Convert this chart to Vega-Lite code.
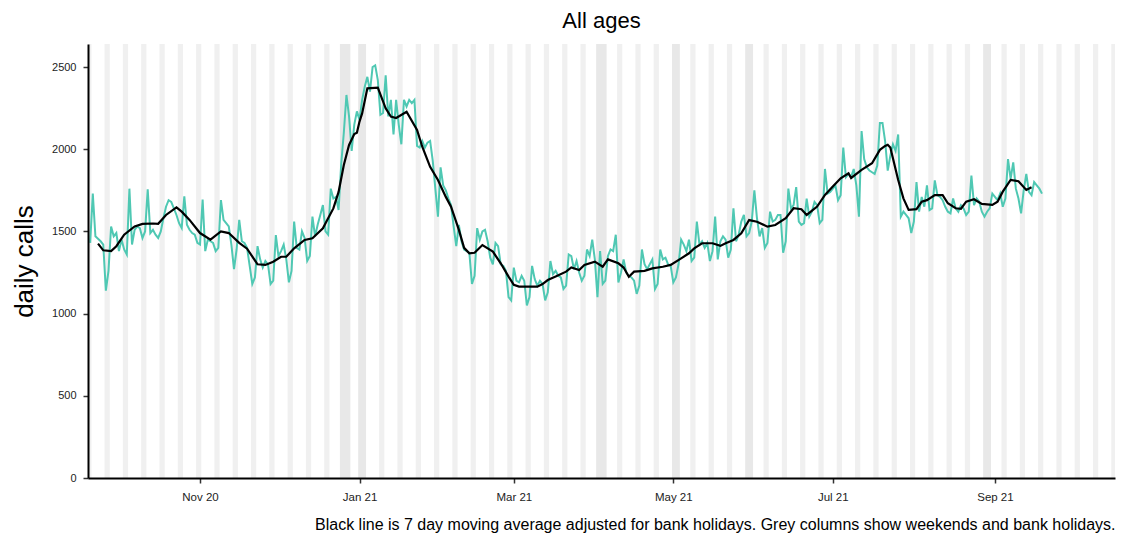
{
  "$schema": "https://vega.github.io/schema/vega-lite/v6.json",
  "width": 1027,
  "height": 434,
  "autosize": {"type": "none"},
  "padding": {"left": 88, "top": 44, "right": 13, "bottom": 55},
  "background": "white",
  "config": {"view": {"stroke": null}, "font": "Liberation Sans"},
  "title": {"text": "All ages", "fontSize": 22, "fontWeight": "normal", "anchor": "middle", "frame": "group", "offset": 11, "color": "black", "font": "Liberation Sans"},
  "datasets": {
    "cols": [
      {"date":"2020-09-18T12:00:00Z","date_end":"2020-09-20T12:00:00Z","kind":"w"},
      {"date":"2020-09-25T12:00:00Z","date_end":"2020-09-27T12:00:00Z","kind":"w"},
      {"date":"2020-10-02T12:00:00Z","date_end":"2020-10-04T12:00:00Z","kind":"w"},
      {"date":"2020-10-09T12:00:00Z","date_end":"2020-10-11T12:00:00Z","kind":"w"},
      {"date":"2020-10-16T12:00:00Z","date_end":"2020-10-18T12:00:00Z","kind":"w"},
      {"date":"2020-10-23T12:00:00Z","date_end":"2020-10-25T12:00:00Z","kind":"w"},
      {"date":"2020-10-30T12:00:00Z","date_end":"2020-11-01T12:00:00Z","kind":"w"},
      {"date":"2020-11-06T12:00:00Z","date_end":"2020-11-08T12:00:00Z","kind":"w"},
      {"date":"2020-11-13T12:00:00Z","date_end":"2020-11-15T12:00:00Z","kind":"w"},
      {"date":"2020-11-20T12:00:00Z","date_end":"2020-11-22T12:00:00Z","kind":"w"},
      {"date":"2020-11-27T12:00:00Z","date_end":"2020-11-29T12:00:00Z","kind":"w"},
      {"date":"2020-12-04T12:00:00Z","date_end":"2020-12-06T12:00:00Z","kind":"w"},
      {"date":"2020-12-11T12:00:00Z","date_end":"2020-12-13T12:00:00Z","kind":"w"},
      {"date":"2020-12-18T12:00:00Z","date_end":"2020-12-20T12:00:00Z","kind":"w"},
      {"date":"2020-12-24T12:00:00Z","date_end":"2020-12-28T12:00:00Z","kind":"b"},
      {"date":"2020-12-31T12:00:00Z","date_end":"2021-01-03T12:00:00Z","kind":"b"},
      {"date":"2021-01-08T12:00:00Z","date_end":"2021-01-10T12:00:00Z","kind":"w"},
      {"date":"2021-01-15T12:00:00Z","date_end":"2021-01-17T12:00:00Z","kind":"w"},
      {"date":"2021-01-22T12:00:00Z","date_end":"2021-01-24T12:00:00Z","kind":"w"},
      {"date":"2021-01-29T12:00:00Z","date_end":"2021-01-31T12:00:00Z","kind":"w"},
      {"date":"2021-02-05T12:00:00Z","date_end":"2021-02-07T12:00:00Z","kind":"w"},
      {"date":"2021-02-12T12:00:00Z","date_end":"2021-02-14T12:00:00Z","kind":"w"},
      {"date":"2021-02-19T12:00:00Z","date_end":"2021-02-21T12:00:00Z","kind":"w"},
      {"date":"2021-02-26T12:00:00Z","date_end":"2021-02-28T12:00:00Z","kind":"w"},
      {"date":"2021-03-05T12:00:00Z","date_end":"2021-03-07T12:00:00Z","kind":"w"},
      {"date":"2021-03-12T12:00:00Z","date_end":"2021-03-14T12:00:00Z","kind":"w"},
      {"date":"2021-03-19T12:00:00Z","date_end":"2021-03-21T12:00:00Z","kind":"w"},
      {"date":"2021-03-26T12:00:00Z","date_end":"2021-03-28T12:00:00Z","kind":"w"},
      {"date":"2021-04-01T12:00:00Z","date_end":"2021-04-05T12:00:00Z","kind":"b"},
      {"date":"2021-04-09T12:00:00Z","date_end":"2021-04-11T12:00:00Z","kind":"w"},
      {"date":"2021-04-16T12:00:00Z","date_end":"2021-04-18T12:00:00Z","kind":"w"},
      {"date":"2021-04-23T12:00:00Z","date_end":"2021-04-25T12:00:00Z","kind":"w"},
      {"date":"2021-04-30T12:00:00Z","date_end":"2021-05-03T12:00:00Z","kind":"b"},
      {"date":"2021-05-07T12:00:00Z","date_end":"2021-05-09T12:00:00Z","kind":"w"},
      {"date":"2021-05-14T12:00:00Z","date_end":"2021-05-16T12:00:00Z","kind":"w"},
      {"date":"2021-05-21T12:00:00Z","date_end":"2021-05-23T12:00:00Z","kind":"w"},
      {"date":"2021-05-28T12:00:00Z","date_end":"2021-05-31T12:00:00Z","kind":"b"},
      {"date":"2021-06-04T12:00:00Z","date_end":"2021-06-06T12:00:00Z","kind":"w"},
      {"date":"2021-06-11T12:00:00Z","date_end":"2021-06-13T12:00:00Z","kind":"w"},
      {"date":"2021-06-18T12:00:00Z","date_end":"2021-06-20T12:00:00Z","kind":"w"},
      {"date":"2021-06-25T12:00:00Z","date_end":"2021-06-27T12:00:00Z","kind":"w"},
      {"date":"2021-07-02T12:00:00Z","date_end":"2021-07-04T12:00:00Z","kind":"w"},
      {"date":"2021-07-09T12:00:00Z","date_end":"2021-07-11T12:00:00Z","kind":"w"},
      {"date":"2021-07-16T12:00:00Z","date_end":"2021-07-18T12:00:00Z","kind":"w"},
      {"date":"2021-07-23T12:00:00Z","date_end":"2021-07-25T12:00:00Z","kind":"w"},
      {"date":"2021-07-30T12:00:00Z","date_end":"2021-08-01T12:00:00Z","kind":"w"},
      {"date":"2021-08-06T12:00:00Z","date_end":"2021-08-08T12:00:00Z","kind":"w"},
      {"date":"2021-08-13T12:00:00Z","date_end":"2021-08-15T12:00:00Z","kind":"w"},
      {"date":"2021-08-20T12:00:00Z","date_end":"2021-08-22T12:00:00Z","kind":"w"},
      {"date":"2021-08-27T12:00:00Z","date_end":"2021-08-30T12:00:00Z","kind":"b"},
      {"date":"2021-09-03T12:00:00Z","date_end":"2021-09-05T12:00:00Z","kind":"w"},
      {"date":"2021-09-10T12:00:00Z","date_end":"2021-09-12T12:00:00Z","kind":"w"},
      {"date":"2021-09-17T12:00:00Z","date_end":"2021-09-19T12:00:00Z","kind":"w"},
      {"date":"2021-09-24T12:00:00Z","date_end":"2021-09-26T12:00:00Z","kind":"w"},
      {"date":"2021-10-01T12:00:00Z","date_end":"2021-10-03T12:00:00Z","kind":"w"},
      {"date":"2021-10-08T12:00:00Z","date_end":"2021-10-10T12:00:00Z","kind":"w"},
      {"date":"2021-10-15T12:00:00Z","date_end":"2021-10-17T12:00:00Z","kind":"w"}
    ],
    "daily": [
      {"date":"2020-09-20","calls":1430},{"date":"2020-09-21","calls":1730},{"date":"2020-09-22","calls":1470},{"date":"2020-09-23","calls":1455},{"date":"2020-09-24","calls":1440},{"date":"2020-09-25","calls":1420},{"date":"2020-09-26","calls":1140},{"date":"2020-09-27","calls":1260},{"date":"2020-09-28","calls":1530},{"date":"2020-09-29","calls":1470},{"date":"2020-09-30","calls":1490},
      {"date":"2020-10-01","calls":1380},{"date":"2020-10-02","calls":1450},{"date":"2020-10-03","calls":1390},{"date":"2020-10-04","calls":1360},{"date":"2020-10-05","calls":1760},{"date":"2020-10-06","calls":1420},{"date":"2020-10-07","calls":1510},{"date":"2020-10-08","calls":1530},{"date":"2020-10-09","calls":1520},{"date":"2020-10-10","calls":1460},{"date":"2020-10-11","calls":1500},{"date":"2020-10-12","calls":1756},{"date":"2020-10-13","calls":1490},{"date":"2020-10-14","calls":1510},{"date":"2020-10-15","calls":1480},{"date":"2020-10-16","calls":1460},{"date":"2020-10-17","calls":1500},{"date":"2020-10-18","calls":1580},{"date":"2020-10-19","calls":1650},{"date":"2020-10-20","calls":1690},{"date":"2020-10-21","calls":1680},{"date":"2020-10-22","calls":1640},{"date":"2020-10-23","calls":1600},{"date":"2020-10-24","calls":1550},{"date":"2020-10-25","calls":1520},{"date":"2020-10-26","calls":1714},{"date":"2020-10-27","calls":1540},{"date":"2020-10-28","calls":1510},{"date":"2020-10-29","calls":1490},{"date":"2020-10-30","calls":1480},{"date":"2020-10-31","calls":1430},
      {"date":"2020-11-01","calls":1420},{"date":"2020-11-02","calls":1694},{"date":"2020-11-03","calls":1380},{"date":"2020-11-04","calls":1450},{"date":"2020-11-05","calls":1440},{"date":"2020-11-06","calls":1430},{"date":"2020-11-07","calls":1380},{"date":"2020-11-08","calls":1400},{"date":"2020-11-09","calls":1690},{"date":"2020-11-10","calls":1570},{"date":"2020-11-11","calls":1550},{"date":"2020-11-12","calls":1530},{"date":"2020-11-13","calls":1420},{"date":"2020-11-14","calls":1270},{"date":"2020-11-15","calls":1390},{"date":"2020-11-16","calls":1570},{"date":"2020-11-17","calls":1440},{"date":"2020-11-18","calls":1430},{"date":"2020-11-19","calls":1400},{"date":"2020-11-20","calls":1290},{"date":"2020-11-21","calls":1180},{"date":"2020-11-22","calls":1220},{"date":"2020-11-23","calls":1410},{"date":"2020-11-24","calls":1330},{"date":"2020-11-25","calls":1280},{"date":"2020-11-26","calls":1320},{"date":"2020-11-27","calls":1300},{"date":"2020-11-28","calls":1180},{"date":"2020-11-29","calls":1200},{"date":"2020-11-30","calls":1478},
      {"date":"2020-12-01","calls":1350},{"date":"2020-12-02","calls":1380},{"date":"2020-12-03","calls":1420},{"date":"2020-12-04","calls":1330},{"date":"2020-12-05","calls":1190},{"date":"2020-12-06","calls":1260},{"date":"2020-12-07","calls":1560},{"date":"2020-12-08","calls":1400},{"date":"2020-12-09","calls":1390},{"date":"2020-12-10","calls":1500},{"date":"2020-12-11","calls":1460},{"date":"2020-12-12","calls":1320},{"date":"2020-12-13","calls":1350},{"date":"2020-12-14","calls":1590},{"date":"2020-12-15","calls":1470},{"date":"2020-12-16","calls":1540},{"date":"2020-12-17","calls":1600},{"date":"2020-12-18","calls":1660},{"date":"2020-12-19","calls":1500},{"date":"2020-12-20","calls":1480},{"date":"2020-12-21","calls":1760},{"date":"2020-12-22","calls":1700},{"date":"2020-12-23","calls":1710},{"date":"2020-12-24","calls":1630},{"date":"2020-12-25","calls":1910},{"date":"2020-12-26","calls":2100},{"date":"2020-12-27","calls":2330},{"date":"2020-12-28","calls":2200},{"date":"2020-12-29","calls":1990},{"date":"2020-12-30","calls":2150},{"date":"2020-12-31","calls":2230},
      {"date":"2021-01-01","calls":2180},{"date":"2021-01-02","calls":2300},{"date":"2021-01-03","calls":2380},{"date":"2021-01-04","calls":2440},{"date":"2021-01-05","calls":2350},{"date":"2021-01-06","calls":2500},{"date":"2021-01-07","calls":2510},{"date":"2021-01-08","calls":2420},{"date":"2021-01-09","calls":2210},{"date":"2021-01-10","calls":2220},{"date":"2021-01-11","calls":2450},{"date":"2021-01-12","calls":2200},{"date":"2021-01-13","calls":2300},{"date":"2021-01-14","calls":2090},{"date":"2021-01-15","calls":2300},{"date":"2021-01-16","calls":2150},{"date":"2021-01-17","calls":2030},{"date":"2021-01-18","calls":2300},{"date":"2021-01-19","calls":2260},{"date":"2021-01-20","calls":2300},{"date":"2021-01-21","calls":2280},{"date":"2021-01-22","calls":2300},{"date":"2021-01-23","calls":2020},{"date":"2021-01-24","calls":2010},{"date":"2021-01-25","calls":2050},{"date":"2021-01-26","calls":2010},{"date":"2021-01-27","calls":2040},{"date":"2021-01-28","calls":2050},{"date":"2021-01-29","calls":1930},{"date":"2021-01-30","calls":1760},{"date":"2021-01-31","calls":1590},
      {"date":"2021-02-01","calls":1890},{"date":"2021-02-02","calls":1780},{"date":"2021-02-03","calls":1750},{"date":"2021-02-04","calls":1700},{"date":"2021-02-05","calls":1660},{"date":"2021-02-06","calls":1530},{"date":"2021-02-07","calls":1410},{"date":"2021-02-08","calls":1540},{"date":"2021-02-09","calls":1440},{"date":"2021-02-10","calls":1390},{"date":"2021-02-11","calls":1380},{"date":"2021-02-12","calls":1370},{"date":"2021-02-13","calls":1180},{"date":"2021-02-14","calls":1230},{"date":"2021-02-15","calls":1520},{"date":"2021-02-16","calls":1450},{"date":"2021-02-17","calls":1500},{"date":"2021-02-18","calls":1510},{"date":"2021-02-19","calls":1440},{"date":"2021-02-20","calls":1340},{"date":"2021-02-21","calls":1300},{"date":"2021-02-22","calls":1430},{"date":"2021-02-23","calls":1410},{"date":"2021-02-24","calls":1300},{"date":"2021-02-25","calls":1290},{"date":"2021-02-26","calls":1260},{"date":"2021-02-27","calls":1100},{"date":"2021-02-28","calls":1080},
      {"date":"2021-03-01","calls":1280},{"date":"2021-03-02","calls":1200},{"date":"2021-03-03","calls":1190},{"date":"2021-03-04","calls":1230},{"date":"2021-03-05","calls":1200},{"date":"2021-03-06","calls":1050},{"date":"2021-03-07","calls":1100},{"date":"2021-03-08","calls":1290},{"date":"2021-03-09","calls":1210},{"date":"2021-03-10","calls":1170},{"date":"2021-03-11","calls":1200},{"date":"2021-03-12","calls":1180},{"date":"2021-03-13","calls":1080},{"date":"2021-03-14","calls":1130},{"date":"2021-03-15","calls":1320},{"date":"2021-03-16","calls":1240},{"date":"2021-03-17","calls":1260},{"date":"2021-03-18","calls":1230},{"date":"2021-03-19","calls":1220},{"date":"2021-03-20","calls":1150},{"date":"2021-03-21","calls":1170},{"date":"2021-03-22","calls":1360},{"date":"2021-03-23","calls":1350},{"date":"2021-03-24","calls":1270},{"date":"2021-03-25","calls":1320},{"date":"2021-03-26","calls":1250},{"date":"2021-03-27","calls":1200},{"date":"2021-03-28","calls":1230},{"date":"2021-03-29","calls":1390},{"date":"2021-03-30","calls":1350},{"date":"2021-03-31","calls":1450},
      {"date":"2021-04-01","calls":1330},{"date":"2021-04-02","calls":1100},{"date":"2021-04-03","calls":1380},{"date":"2021-04-04","calls":1180},{"date":"2021-04-05","calls":1200},{"date":"2021-04-06","calls":1350},{"date":"2021-04-07","calls":1390},{"date":"2021-04-08","calls":1380},{"date":"2021-04-09","calls":1480},{"date":"2021-04-10","calls":1190},{"date":"2021-04-11","calls":1250},{"date":"2021-04-12","calls":1330},{"date":"2021-04-13","calls":1250},{"date":"2021-04-14","calls":1230},{"date":"2021-04-15","calls":1220},{"date":"2021-04-16","calls":1200},{"date":"2021-04-17","calls":1120},{"date":"2021-04-18","calls":1170},{"date":"2021-04-19","calls":1390},{"date":"2021-04-20","calls":1300},{"date":"2021-04-21","calls":1270},{"date":"2021-04-22","calls":1300},{"date":"2021-04-23","calls":1330},{"date":"2021-04-24","calls":1150},{"date":"2021-04-25","calls":1180},{"date":"2021-04-26","calls":1390},{"date":"2021-04-27","calls":1330},{"date":"2021-04-28","calls":1340},{"date":"2021-04-29","calls":1300},{"date":"2021-04-30","calls":1290},
      {"date":"2021-05-01","calls":1190},{"date":"2021-05-02","calls":1220},{"date":"2021-05-03","calls":1300},{"date":"2021-05-04","calls":1450},{"date":"2021-05-05","calls":1420},{"date":"2021-05-06","calls":1380},{"date":"2021-05-07","calls":1450},{"date":"2021-05-08","calls":1320},{"date":"2021-05-09","calls":1340},{"date":"2021-05-10","calls":1560},{"date":"2021-05-11","calls":1420},{"date":"2021-05-12","calls":1440},{"date":"2021-05-13","calls":1400},{"date":"2021-05-14","calls":1430},{"date":"2021-05-15","calls":1320},{"date":"2021-05-16","calls":1380},{"date":"2021-05-17","calls":1590},{"date":"2021-05-18","calls":1330},{"date":"2021-05-19","calls":1440},{"date":"2021-05-20","calls":1470},{"date":"2021-05-21","calls":1450},{"date":"2021-05-22","calls":1340},{"date":"2021-05-23","calls":1390},{"date":"2021-05-24","calls":1640},{"date":"2021-05-25","calls":1440},{"date":"2021-05-26","calls":1480},{"date":"2021-05-27","calls":1560},{"date":"2021-05-28","calls":1600},{"date":"2021-05-29","calls":1470},{"date":"2021-05-30","calls":1490},{"date":"2021-05-31","calls":1560},
      {"date":"2021-06-01","calls":1750},{"date":"2021-06-02","calls":1580},{"date":"2021-06-03","calls":1470},{"date":"2021-06-04","calls":1520},{"date":"2021-06-05","calls":1400},{"date":"2021-06-06","calls":1430},{"date":"2021-06-07","calls":1620},{"date":"2021-06-08","calls":1560},{"date":"2021-06-09","calls":1570},{"date":"2021-06-10","calls":1600},{"date":"2021-06-11","calls":1600},{"date":"2021-06-12","calls":1370},{"date":"2021-06-13","calls":1440},{"date":"2021-06-14","calls":1760},{"date":"2021-06-15","calls":1640},{"date":"2021-06-16","calls":1660},{"date":"2021-06-17","calls":1770},{"date":"2021-06-18","calls":1560},{"date":"2021-06-19","calls":1540},{"date":"2021-06-20","calls":1550},{"date":"2021-06-21","calls":1700},{"date":"2021-06-22","calls":1590},{"date":"2021-06-23","calls":1620},{"date":"2021-06-24","calls":1680},{"date":"2021-06-25","calls":1660},{"date":"2021-06-26","calls":1550},{"date":"2021-06-27","calls":1570},{"date":"2021-06-28","calls":1880},{"date":"2021-06-29","calls":1730},{"date":"2021-06-30","calls":1740},
      {"date":"2021-07-01","calls":1760},{"date":"2021-07-02","calls":1780},{"date":"2021-07-03","calls":1690},{"date":"2021-07-04","calls":1720},{"date":"2021-07-05","calls":2010},{"date":"2021-07-06","calls":1830},{"date":"2021-07-07","calls":1850},{"date":"2021-07-08","calls":1830},{"date":"2021-07-09","calls":1880},{"date":"2021-07-10","calls":1780},{"date":"2021-07-11","calls":1590},{"date":"2021-07-12","calls":2110},{"date":"2021-07-13","calls":1940},{"date":"2021-07-14","calls":1890},{"date":"2021-07-15","calls":1870},{"date":"2021-07-16","calls":1860},{"date":"2021-07-17","calls":1850},{"date":"2021-07-18","calls":1900},{"date":"2021-07-19","calls":2160},{"date":"2021-07-20","calls":2160},{"date":"2021-07-21","calls":2050},{"date":"2021-07-22","calls":1870},{"date":"2021-07-23","calls":1960},{"date":"2021-07-24","calls":2030},{"date":"2021-07-25","calls":1990},{"date":"2021-07-26","calls":2090},{"date":"2021-07-27","calls":1590},{"date":"2021-07-28","calls":1620},{"date":"2021-07-29","calls":1600},{"date":"2021-07-30","calls":1580},{"date":"2021-07-31","calls":1490},
      {"date":"2021-08-01","calls":1560},{"date":"2021-08-02","calls":1800},{"date":"2021-08-03","calls":1620},{"date":"2021-08-04","calls":1710},{"date":"2021-08-05","calls":1650},{"date":"2021-08-06","calls":1780},{"date":"2021-08-07","calls":1630},{"date":"2021-08-08","calls":1640},{"date":"2021-08-09","calls":1810},{"date":"2021-08-10","calls":1720},{"date":"2021-08-11","calls":1710},{"date":"2021-08-12","calls":1690},{"date":"2021-08-13","calls":1650},{"date":"2021-08-14","calls":1620},{"date":"2021-08-15","calls":1610},{"date":"2021-08-16","calls":1700},{"date":"2021-08-17","calls":1640},{"date":"2021-08-18","calls":1620},{"date":"2021-08-19","calls":1660},{"date":"2021-08-20","calls":1640},{"date":"2021-08-21","calls":1600},{"date":"2021-08-22","calls":1620},{"date":"2021-08-23","calls":1840},{"date":"2021-08-24","calls":1660},{"date":"2021-08-25","calls":1700},{"date":"2021-08-26","calls":1680},{"date":"2021-08-27","calls":1620},{"date":"2021-08-28","calls":1590},{"date":"2021-08-29","calls":1620},{"date":"2021-08-30","calls":1640},{"date":"2021-08-31","calls":1730},
      {"date":"2021-09-01","calls":1710},{"date":"2021-09-02","calls":1690},{"date":"2021-09-03","calls":1730},{"date":"2021-09-04","calls":1650},{"date":"2021-09-05","calls":1700},{"date":"2021-09-06","calls":1940},{"date":"2021-09-07","calls":1820},{"date":"2021-09-08","calls":1920},{"date":"2021-09-09","calls":1760},{"date":"2021-09-10","calls":1700},{"date":"2021-09-11","calls":1610},{"date":"2021-09-12","calls":1750},{"date":"2021-09-13","calls":1850},{"date":"2021-09-14","calls":1740},{"date":"2021-09-15","calls":1720},{"date":"2021-09-16","calls":1800},{"date":"2021-09-17","calls":1780},{"date":"2021-09-18","calls":1760},{"date":"2021-09-19","calls":1730}
    ],
    "ma": [
      {"date":"2020-09-23","calls":1426},{"date":"2020-09-25","calls":1385},{"date":"2020-09-28","calls":1380},{"date":"2020-09-30","calls":1410},{"date":"2020-10-03","calls":1480},{"date":"2020-10-07","calls":1530},{"date":"2020-10-10","calls":1546},{"date":"2020-10-14","calls":1548},{"date":"2020-10-16","calls":1546},{"date":"2020-10-19","calls":1600},{"date":"2020-10-23","calls":1646},{"date":"2020-10-25","calls":1620},{"date":"2020-10-28","calls":1570},
      {"date":"2020-11-01","calls":1490},{"date":"2020-11-05","calls":1450},{"date":"2020-11-09","calls":1500},{"date":"2020-11-12","calls":1490},{"date":"2020-11-16","calls":1430},{"date":"2020-11-19","calls":1395},{"date":"2020-11-23","calls":1300},{"date":"2020-11-26","calls":1296},{"date":"2020-11-29","calls":1316},
      {"date":"2020-12-02","calls":1346},{"date":"2020-12-04","calls":1346},{"date":"2020-12-07","calls":1397},{"date":"2020-12-11","calls":1448},{"date":"2020-12-14","calls":1458},{"date":"2020-12-18","calls":1519},{"date":"2020-12-20","calls":1580},{"date":"2020-12-22","calls":1640},{"date":"2020-12-24","calls":1740},{"date":"2020-12-26","calls":1904},{"date":"2020-12-28","calls":2026},{"date":"2020-12-30","calls":2092},{"date":"2020-12-31","calls":2100},
      {"date":"2021-01-01","calls":2168},{"date":"2021-01-02","calls":2218},{"date":"2021-01-04","calls":2370},{"date":"2021-01-08","calls":2374},{"date":"2021-01-11","calls":2249},{"date":"2021-01-13","calls":2198},{"date":"2021-01-15","calls":2190},{"date":"2021-01-19","calls":2228},{"date":"2021-01-23","calls":2117},{"date":"2021-01-25","calls":2015},{"date":"2021-01-28","calls":1893},{"date":"2021-01-31","calls":1813},
      {"date":"2021-02-03","calls":1710},{"date":"2021-02-05","calls":1650},{"date":"2021-02-08","calls":1509},{"date":"2021-02-10","calls":1400},{"date":"2021-02-12","calls":1367},{"date":"2021-02-14","calls":1370},{"date":"2021-02-17","calls":1417},{"date":"2021-02-21","calls":1377},{"date":"2021-02-24","calls":1306},{"date":"2021-02-27","calls":1225},
      {"date":"2021-03-01","calls":1175},{"date":"2021-03-03","calls":1164},{"date":"2021-03-10","calls":1164},{"date":"2021-03-12","calls":1180},{"date":"2021-03-14","calls":1204},{"date":"2021-03-17","calls":1225},{"date":"2021-03-21","calls":1255},{"date":"2021-03-23","calls":1281},{"date":"2021-03-26","calls":1265},{"date":"2021-03-28","calls":1296},
      {"date":"2021-04-01","calls":1316},{"date":"2021-04-04","calls":1285},{"date":"2021-04-06","calls":1330},{"date":"2021-04-10","calls":1306},{"date":"2021-04-12","calls":1280},{"date":"2021-04-14","calls":1224},{"date":"2021-04-16","calls":1255},{"date":"2021-04-20","calls":1260},{"date":"2021-04-23","calls":1275},{"date":"2021-04-27","calls":1285},{"date":"2021-04-30","calls":1296},
      {"date":"2021-05-04","calls":1336},{"date":"2021-05-07","calls":1367},{"date":"2021-05-09","calls":1397},{"date":"2021-05-12","calls":1428},{"date":"2021-05-16","calls":1428},{"date":"2021-05-19","calls":1412},{"date":"2021-05-21","calls":1428},{"date":"2021-05-24","calls":1448},{"date":"2021-05-27","calls":1488},{"date":"2021-05-30","calls":1569},
      {"date":"2021-06-02","calls":1559},{"date":"2021-06-06","calls":1529},{"date":"2021-06-09","calls":1539},{"date":"2021-06-13","calls":1580},{"date":"2021-06-16","calls":1641},{"date":"2021-06-19","calls":1635},{"date":"2021-06-21","calls":1600},{"date":"2021-06-25","calls":1651},{"date":"2021-06-28","calls":1722},
      {"date":"2021-07-01","calls":1773},{"date":"2021-07-04","calls":1823},{"date":"2021-07-07","calls":1854},{"date":"2021-07-08","calls":1825},{"date":"2021-07-12","calls":1874},{"date":"2021-07-16","calls":1915},{"date":"2021-07-19","calls":1996},{"date":"2021-07-21","calls":2020},{"date":"2021-07-22","calls":2027},{"date":"2021-07-23","calls":2010},{"date":"2021-07-26","calls":1813},{"date":"2021-07-28","calls":1701},{"date":"2021-07-30","calls":1631},
      {"date":"2021-08-02","calls":1635},{"date":"2021-08-04","calls":1681},{"date":"2021-08-06","calls":1690},{"date":"2021-08-09","calls":1721},{"date":"2021-08-12","calls":1721},{"date":"2021-08-14","calls":1671},{"date":"2021-08-17","calls":1641},{"date":"2021-08-19","calls":1638},{"date":"2021-08-21","calls":1681},{"date":"2021-08-24","calls":1696},{"date":"2021-08-27","calls":1667},{"date":"2021-08-31","calls":1661},
      {"date":"2021-09-02","calls":1681},{"date":"2021-09-04","calls":1742},{"date":"2021-09-07","calls":1813},{"date":"2021-09-10","calls":1805},{"date":"2021-09-13","calls":1752},{"date":"2021-09-15","calls":1768}
    ]
  },
  "encoding": {
    "x": {
      "field": "date",
      "type": "temporal",
      "scale": {
        "type": "utc",
        "domain": [
          {"year": 2020, "month": 9, "date": 19, "hours": 4, "utc": true},
          {"year": 2021, "month": 10, "date": 16, "hours": 22, "utc": true}
        ]
      },
      "axis": {
        "values": [
          {"year": 2020, "month": 11, "date": 1, "utc": true},
          {"year": 2021, "month": 1, "date": 1, "utc": true},
          {"year": 2021, "month": 3, "date": 1, "utc": true},
          {"year": 2021, "month": 5, "date": 1, "utc": true},
          {"year": 2021, "month": 7, "date": 1, "utc": true},
          {"year": 2021, "month": 9, "date": 1, "utc": true}
        ],
        "labelExpr": "utcFormat(datum.value, '%b %y')",
        "grid": false,
        "zindex": 2,
        "labelFontSize": 11.5,
        "labelColor": "#222222",
        "labelPadding": 8,
        "tickColor": "#333333",
        "tickSize": 5,
        "tickWidth": 1.5,
        "domainColor": "black",
        "domainWidth": 2,
        "title": "Black line is 7 day moving average adjusted for bank holidays. Grey columns show weekends and bank holidays.",
        "titleAnchor": "end",
        "titleFontSize": 16,
        "titleFontWeight": "normal",
        "titleColor": "black",
        "titlePadding": 14
      }
    }
  },
  "layer": [
    {
      "data": {"name": "cols"},
      "mark": {"type": "rect", "clip": true},
      "encoding": {
        "x2": {"field": "date_end"},
        "color": {"field": "kind", "type": "nominal", "scale": {"domain": ["w", "b"], "range": ["#f0f0f0", "#e8e8e8"]}, "legend": null}
      }
    },
    {
      "data": {"name": "daily"},
      "mark": {"type": "line", "color": "#4fc8b3", "strokeWidth": 2, "clip": true},
      "encoding": {
        "y": {
          "field": "calls",
          "type": "quantitative",
          "scale": {"domain": [0, 2640], "nice": false, "zero": true},
          "axis": {
            "values": [0, 500, 1000, 1500, 2000, 2500],
            "format": "d",
            "grid": false,
            "zindex": 2,
            "title": "daily calls",
            "titleFontSize": 26,
            "titleFontWeight": "normal",
            "titleColor": "black",
            "titlePadding": 14,
            "labelFontSize": 11,
            "labelColor": "#222222",
            "labelPadding": 7,
            "tickColor": "#333333",
            "tickSize": 5,
            "tickWidth": 1.5,
            "domainColor": "black",
            "domainWidth": 2
          }
        }
      }
    },
    {
      "data": {"name": "ma"},
      "mark": {"type": "line", "color": "black", "strokeWidth": 2.2, "clip": true},
      "encoding": {
        "y": {
          "field": "calls",
          "type": "quantitative",
          "scale": {"domain": [0, 2640], "nice": false, "zero": true},
          "axis": {
            "values": [0, 500, 1000, 1500, 2000, 2500],
            "format": "d",
            "grid": false,
            "zindex": 2,
            "title": "daily calls",
            "titleFontSize": 26,
            "titleFontWeight": "normal",
            "titleColor": "black",
            "titlePadding": 14,
            "labelFontSize": 11,
            "labelColor": "#222222",
            "labelPadding": 7,
            "tickColor": "#333333",
            "tickSize": 5,
            "tickWidth": 1.5,
            "domainColor": "black",
            "domainWidth": 2
          }
        }
      }
    }
  ]
}
